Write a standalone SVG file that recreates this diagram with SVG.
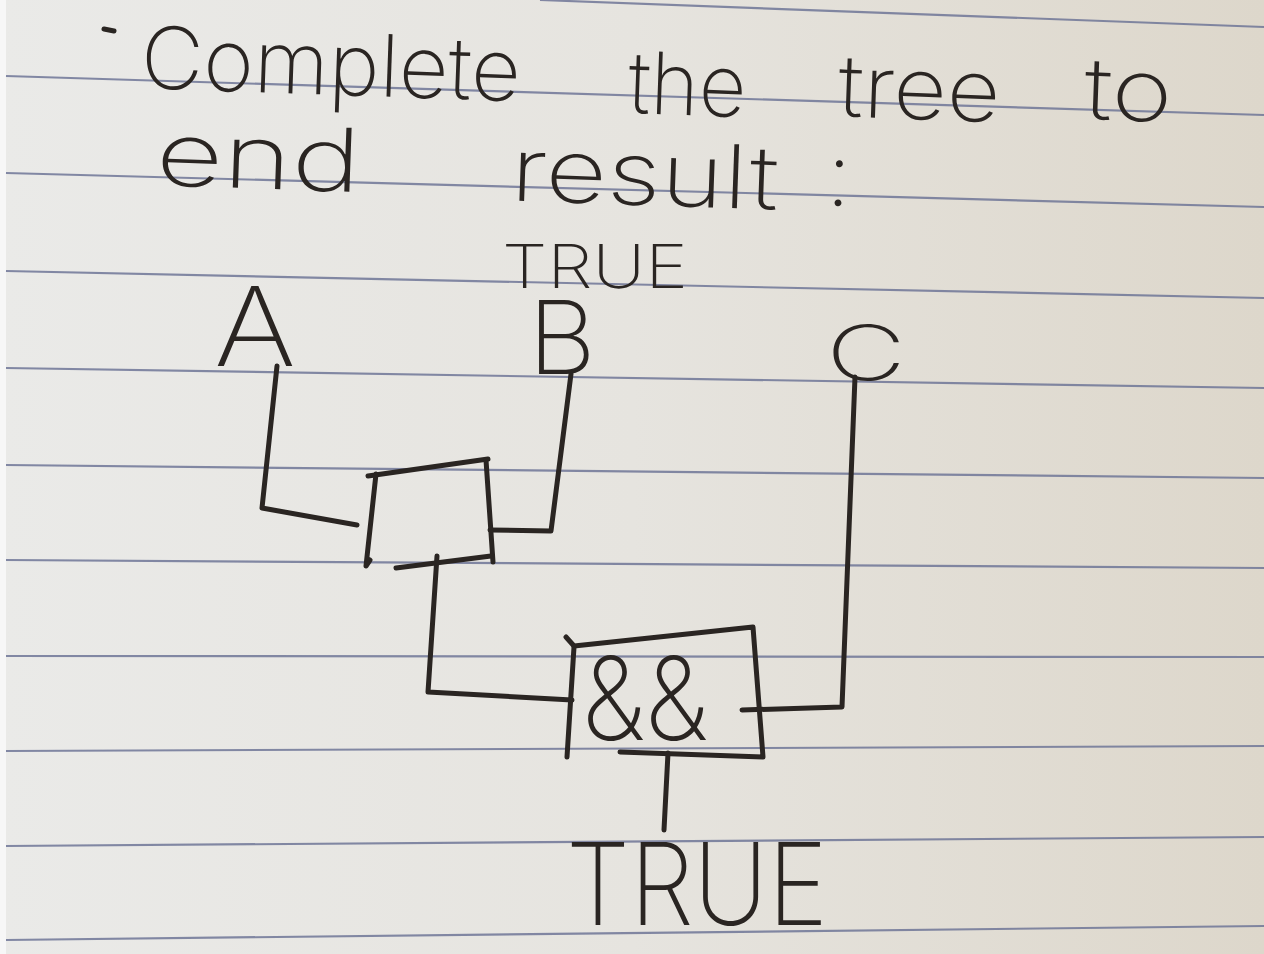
<svg xmlns="http://www.w3.org/2000/svg" width="1264" height="954" viewBox="0 0 1264 954">
  <defs>
    <linearGradient id="paper" x1="0" y1="0" x2="1" y2="0">
      <stop offset="0" stop-color="#eaeae8"/>
      <stop offset="0.5" stop-color="#e6e4df"/>
      <stop offset="1" stop-color="#ddd7cb"/>
    </linearGradient>
    <style>
      .rule { stroke: #6f7597; stroke-width: 2.2; fill: none; opacity: 0.85; }
      .ink { stroke: #2a2522; stroke-width: 5; fill: none; stroke-linecap: round; stroke-linejoin: round; }
      .hand { fill: #2a2522; font-family: Inter, Lato, "DejaVu Sans", sans-serif; font-weight: 200; }
    </style>
  </defs>

  <!-- paper -->
  <rect x="0" y="0" width="1264" height="954" fill="url(#paper)"/>
  <rect x="0" y="0" width="6" height="954" fill="#f7f7f7"/>

  <!-- ruled lines -->
  <g id="ruled-lines">
    <line class="rule" x1="540" y1="0" x2="1264" y2="27"/>
    <line class="rule" x1="6" y1="76" x2="1264" y2="115"/>
    <line class="rule" x1="6" y1="173" x2="1264" y2="207"/>
    <line class="rule" x1="6" y1="271" x2="1264" y2="298"/>
    <line class="rule" x1="6" y1="368" x2="1264" y2="388"/>
    <line class="rule" x1="6" y1="465" x2="1264" y2="478"/>
    <line class="rule" x1="6" y1="560" x2="1264" y2="568"/>
    <line class="rule" x1="6" y1="656" x2="1264" y2="657"/>
    <line class="rule" x1="6" y1="751" x2="1264" y2="746"/>
    <line class="rule" x1="6" y1="846" x2="1264" y2="837"/>
    <line class="rule" x1="6" y1="940" x2="1264" y2="926"/>
  </g>

  <!-- heading -->
  <g id="heading">
    <path class="ink" d="M104,29 L114,31" stroke-width="3"/>
    <text class="hand" font-size="86" transform="rotate(2 140 88)">
      <tspan x="140" y="88" textLength="380" lengthAdjust="spacingAndGlyphs">Complete</tspan>
      <tspan x="628" y="96" textLength="118" lengthAdjust="spacingAndGlyphs">the</tspan>
      <tspan x="838" y="92" textLength="162" lengthAdjust="spacingAndGlyphs">tree</tspan>
      <tspan x="1084" y="86" textLength="88" lengthAdjust="spacingAndGlyphs">to</tspan>
    </text>
    <text class="hand" font-size="88" transform="rotate(2 155 185)">
      <tspan x="155" y="185" textLength="205" lengthAdjust="spacingAndGlyphs">end</tspan>
      <tspan x="510" y="188" textLength="268" lengthAdjust="spacingAndGlyphs">result</tspan>
      <tspan x="826" y="182">:</tspan>
    </text>
  </g>

  <!-- connectors -->
  <g id="connectors">
    <path id="edge-A" class="ink" d="M277,366 L262,508 L357,525"/>
    <path id="edge-B" class="ink" d="M571,374 L551,531 L490,530"/>
    <path id="edge-op1-and" class="ink" d="M437,556 L428,692 L572,700"/>
    <path id="edge-C" class="ink" d="M855,377 L842,707 L742,710"/>
    <path id="edge-out" class="ink" d="M668,753 L664,830"/>
  </g>

  <!-- nodes -->
  <g id="node-A">
    <text class="hand" x="214" y="366" font-size="110" textLength="82" lengthAdjust="spacingAndGlyphs">A</text>
  </g>
  <g id="node-B">
    <text class="hand" x="502" y="288" font-size="60" textLength="186" lengthAdjust="spacingAndGlyphs">TRUE</text>
    <text class="hand" x="528" y="374" font-size="102" textLength="68" lengthAdjust="spacingAndGlyphs">B</text>
  </g>
  <g id="node-C">
    <text class="hand" x="826" y="380" font-size="76" textLength="80" lengthAdjust="spacingAndGlyphs">C</text>
  </g>
  <g id="node-op1">
    <path class="ink" d="M368,476 L488,459"/>
    <path class="ink" d="M376,474 L366,566 L370,560"/>
    <path class="ink" d="M486,460 L493,562"/>
    <path class="ink" d="M396,568 L491,556"/>
  </g>
  <g id="node-and">
    <path class="ink" d="M566,637 L574,646 L753,627 L763,757 L620,752"/>
    <path class="ink" d="M574,647 L567,757"/>
    <text class="hand" x="582" y="740" font-size="116" textLength="126" lengthAdjust="spacingAndGlyphs">&amp;&amp;</text>
  </g>
  <g id="node-result">
    <text class="hand" x="566" y="925" font-size="114" textLength="262" lengthAdjust="spacingAndGlyphs">TRUE</text>
  </g>
</svg>
